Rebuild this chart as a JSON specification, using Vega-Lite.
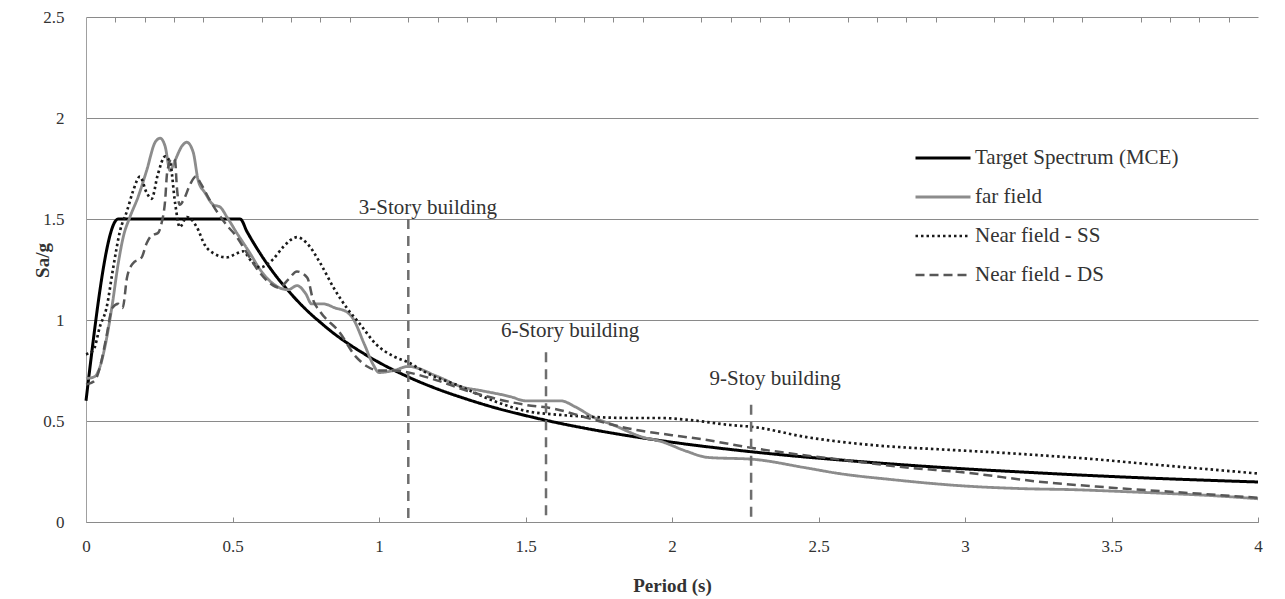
{
  "$schema": "https://vega.github.io/schema/vega-lite/v6.json",
  "width": 1172,
  "height": 505,
  "autosize": "none",
  "padding": {"left": 86, "top": 17, "right": 27, "bottom": 77},
  "background": "white",
  "config": {
    "view": {"stroke": null},
    "font": "Liberation Serif",
    "legend": {
      "orient": "none",
      "legendX": 828,
      "legendY": 112,
      "title": null,
      "symbolType": "stroke",
      "symbolSize": 3025,
      "symbolStrokeWidth": 2.5,
      "labelFont": "Liberation Serif",
      "labelFontSize": 21,
      "labelColor": "#333333",
      "labelOffset": 3,
      "labelLimit": 400,
      "rowPadding": 0
    }
  },
  "resolve": {"axis": {"x": "independent"}},
  "datasets": {
    "spectra": [
      {"series": "Target Spectrum (MCE)", "T": 0, "Sa": 0.6},
      {"series": "Target Spectrum (MCE)", "T": 0.11, "Sa": 1.5},
      {"series": "Target Spectrum (MCE)", "T": 0.3, "Sa": 1.5},
      {"series": "Target Spectrum (MCE)", "T": 0.526, "Sa": 1.5},
      {"series": "Target Spectrum (MCE)", "T": 0.55, "Sa": 1.436},
      {"series": "Target Spectrum (MCE)", "T": 0.6, "Sa": 1.317},
      {"series": "Target Spectrum (MCE)", "T": 0.65, "Sa": 1.215},
      {"series": "Target Spectrum (MCE)", "T": 0.7, "Sa": 1.129},
      {"series": "Target Spectrum (MCE)", "T": 0.75, "Sa": 1.053},
      {"series": "Target Spectrum (MCE)", "T": 0.8, "Sa": 0.988},
      {"series": "Target Spectrum (MCE)", "T": 0.85, "Sa": 0.929},
      {"series": "Target Spectrum (MCE)", "T": 0.9, "Sa": 0.878},
      {"series": "Target Spectrum (MCE)", "T": 0.95, "Sa": 0.832},
      {"series": "Target Spectrum (MCE)", "T": 1.0, "Sa": 0.79},
      {"series": "Target Spectrum (MCE)", "T": 1.1, "Sa": 0.718},
      {"series": "Target Spectrum (MCE)", "T": 1.2, "Sa": 0.658},
      {"series": "Target Spectrum (MCE)", "T": 1.3, "Sa": 0.608},
      {"series": "Target Spectrum (MCE)", "T": 1.4, "Sa": 0.564},
      {"series": "Target Spectrum (MCE)", "T": 1.5, "Sa": 0.527},
      {"series": "Target Spectrum (MCE)", "T": 1.6, "Sa": 0.494},
      {"series": "Target Spectrum (MCE)", "T": 1.7, "Sa": 0.465},
      {"series": "Target Spectrum (MCE)", "T": 1.8, "Sa": 0.439},
      {"series": "Target Spectrum (MCE)", "T": 1.9, "Sa": 0.416},
      {"series": "Target Spectrum (MCE)", "T": 2.0, "Sa": 0.395},
      {"series": "Target Spectrum (MCE)", "T": 2.2, "Sa": 0.359},
      {"series": "Target Spectrum (MCE)", "T": 2.4, "Sa": 0.329},
      {"series": "Target Spectrum (MCE)", "T": 2.6, "Sa": 0.304},
      {"series": "Target Spectrum (MCE)", "T": 2.8, "Sa": 0.282},
      {"series": "Target Spectrum (MCE)", "T": 3.0, "Sa": 0.263},
      {"series": "Target Spectrum (MCE)", "T": 3.2, "Sa": 0.247},
      {"series": "Target Spectrum (MCE)", "T": 3.4, "Sa": 0.232},
      {"series": "Target Spectrum (MCE)", "T": 3.6, "Sa": 0.219},
      {"series": "Target Spectrum (MCE)", "T": 3.8, "Sa": 0.208},
      {"series": "Target Spectrum (MCE)", "T": 4.0, "Sa": 0.198},

      {"series": "far field", "T": 0, "Sa": 0.71},
      {"series": "far field", "T": 0.03, "Sa": 0.72},
      {"series": "far field", "T": 0.048, "Sa": 0.77},
      {"series": "far field", "T": 0.065, "Sa": 0.87},
      {"series": "far field", "T": 0.088, "Sa": 1.06},
      {"series": "far field", "T": 0.11, "Sa": 1.28},
      {"series": "far field", "T": 0.127, "Sa": 1.41},
      {"series": "far field", "T": 0.15, "Sa": 1.51},
      {"series": "far field", "T": 0.178, "Sa": 1.61},
      {"series": "far field", "T": 0.207, "Sa": 1.74},
      {"series": "far field", "T": 0.236, "Sa": 1.88},
      {"series": "far field", "T": 0.253, "Sa": 1.9},
      {"series": "far field", "T": 0.27, "Sa": 1.86},
      {"series": "far field", "T": 0.287, "Sa": 1.74},
      {"series": "far field", "T": 0.304, "Sa": 1.79},
      {"series": "far field", "T": 0.327, "Sa": 1.86},
      {"series": "far field", "T": 0.344, "Sa": 1.88},
      {"series": "far field", "T": 0.366, "Sa": 1.83},
      {"series": "far field", "T": 0.383, "Sa": 1.69},
      {"series": "far field", "T": 0.406, "Sa": 1.63},
      {"series": "far field", "T": 0.435, "Sa": 1.57},
      {"series": "far field", "T": 0.457, "Sa": 1.56},
      {"series": "far field", "T": 0.481, "Sa": 1.51},
      {"series": "far field", "T": 0.515, "Sa": 1.43},
      {"series": "far field", "T": 0.56, "Sa": 1.33},
      {"series": "far field", "T": 0.594, "Sa": 1.25},
      {"series": "far field", "T": 0.63, "Sa": 1.19},
      {"series": "far field", "T": 0.66, "Sa": 1.16},
      {"series": "far field", "T": 0.69, "Sa": 1.15},
      {"series": "far field", "T": 0.72, "Sa": 1.17},
      {"series": "far field", "T": 0.75, "Sa": 1.13},
      {"series": "far field", "T": 0.77, "Sa": 1.08},
      {"series": "far field", "T": 0.81, "Sa": 1.08},
      {"series": "far field", "T": 0.85, "Sa": 1.06},
      {"series": "far field", "T": 0.89, "Sa": 1.04},
      {"series": "far field", "T": 0.91, "Sa": 1.01},
      {"series": "far field", "T": 0.95, "Sa": 0.88},
      {"series": "far field", "T": 0.98, "Sa": 0.78},
      {"series": "far field", "T": 1.0, "Sa": 0.74},
      {"series": "far field", "T": 1.05, "Sa": 0.75},
      {"series": "far field", "T": 1.1, "Sa": 0.77},
      {"series": "far field", "T": 1.2, "Sa": 0.72},
      {"series": "far field", "T": 1.28, "Sa": 0.67},
      {"series": "far field", "T": 1.35, "Sa": 0.65},
      {"series": "far field", "T": 1.45, "Sa": 0.62},
      {"series": "far field", "T": 1.5, "Sa": 0.6},
      {"series": "far field", "T": 1.62, "Sa": 0.6},
      {"series": "far field", "T": 1.67, "Sa": 0.57},
      {"series": "far field", "T": 1.73, "Sa": 0.52},
      {"series": "far field", "T": 1.8, "Sa": 0.48},
      {"series": "far field", "T": 1.9, "Sa": 0.42},
      {"series": "far field", "T": 1.96, "Sa": 0.4},
      {"series": "far field", "T": 2.05, "Sa": 0.35},
      {"series": "far field", "T": 2.12, "Sa": 0.32},
      {"series": "far field", "T": 2.28, "Sa": 0.31},
      {"series": "far field", "T": 2.45, "Sa": 0.27},
      {"series": "far field", "T": 2.57, "Sa": 0.24},
      {"series": "far field", "T": 2.75, "Sa": 0.21},
      {"series": "far field", "T": 2.98, "Sa": 0.18},
      {"series": "far field", "T": 3.2, "Sa": 0.165},
      {"series": "far field", "T": 3.37, "Sa": 0.16},
      {"series": "far field", "T": 3.55, "Sa": 0.15},
      {"series": "far field", "T": 3.71, "Sa": 0.14},
      {"series": "far field", "T": 3.85, "Sa": 0.13},
      {"series": "far field", "T": 4.0, "Sa": 0.115},

      {"series": "Near field - SS", "T": 0, "Sa": 0.83},
      {"series": "Near field - SS", "T": 0.025, "Sa": 0.85},
      {"series": "Near field - SS", "T": 0.048, "Sa": 0.97},
      {"series": "Near field - SS", "T": 0.07, "Sa": 1.06},
      {"series": "Near field - SS", "T": 0.093, "Sa": 1.26},
      {"series": "Near field - SS", "T": 0.116, "Sa": 1.44},
      {"series": "Near field - SS", "T": 0.14, "Sa": 1.54},
      {"series": "Near field - SS", "T": 0.161, "Sa": 1.64},
      {"series": "Near field - SS", "T": 0.184, "Sa": 1.71},
      {"series": "Near field - SS", "T": 0.207, "Sa": 1.63},
      {"series": "Near field - SS", "T": 0.224, "Sa": 1.6},
      {"series": "Near field - SS", "T": 0.245, "Sa": 1.72},
      {"series": "Near field - SS", "T": 0.27, "Sa": 1.81},
      {"series": "Near field - SS", "T": 0.287, "Sa": 1.78},
      {"series": "Near field - SS", "T": 0.304, "Sa": 1.58},
      {"series": "Near field - SS", "T": 0.32, "Sa": 1.46},
      {"series": "Near field - SS", "T": 0.344, "Sa": 1.51},
      {"series": "Near field - SS", "T": 0.378, "Sa": 1.46},
      {"series": "Near field - SS", "T": 0.406, "Sa": 1.37},
      {"series": "Near field - SS", "T": 0.435, "Sa": 1.33},
      {"series": "Near field - SS", "T": 0.48, "Sa": 1.31},
      {"series": "Near field - SS", "T": 0.515, "Sa": 1.33},
      {"series": "Near field - SS", "T": 0.536, "Sa": 1.34},
      {"series": "Near field - SS", "T": 0.565, "Sa": 1.29},
      {"series": "Near field - SS", "T": 0.594, "Sa": 1.26},
      {"series": "Near field - SS", "T": 0.638, "Sa": 1.3},
      {"series": "Near field - SS", "T": 0.672, "Sa": 1.36},
      {"series": "Near field - SS", "T": 0.72, "Sa": 1.41},
      {"series": "Near field - SS", "T": 0.754, "Sa": 1.38},
      {"series": "Near field - SS", "T": 0.8, "Sa": 1.28},
      {"series": "Near field - SS", "T": 0.845, "Sa": 1.16},
      {"series": "Near field - SS", "T": 0.89, "Sa": 1.06},
      {"series": "Near field - SS", "T": 0.935, "Sa": 0.98},
      {"series": "Near field - SS", "T": 0.99, "Sa": 0.88},
      {"series": "Near field - SS", "T": 1.05, "Sa": 0.82},
      {"series": "Near field - SS", "T": 1.1, "Sa": 0.79},
      {"series": "Near field - SS", "T": 1.16, "Sa": 0.74},
      {"series": "Near field - SS", "T": 1.28, "Sa": 0.67},
      {"series": "Near field - SS", "T": 1.39, "Sa": 0.6},
      {"series": "Near field - SS", "T": 1.5, "Sa": 0.55},
      {"series": "Near field - SS", "T": 1.62, "Sa": 0.53},
      {"series": "Near field - SS", "T": 1.73, "Sa": 0.52},
      {"series": "Near field - SS", "T": 1.85, "Sa": 0.515},
      {"series": "Near field - SS", "T": 1.96, "Sa": 0.515},
      {"series": "Near field - SS", "T": 2.06, "Sa": 0.505},
      {"series": "Near field - SS", "T": 2.2, "Sa": 0.48},
      {"series": "Near field - SS", "T": 2.28, "Sa": 0.47},
      {"series": "Near field - SS", "T": 2.46, "Sa": 0.42},
      {"series": "Near field - SS", "T": 2.69, "Sa": 0.38},
      {"series": "Near field - SS", "T": 2.91, "Sa": 0.36},
      {"series": "Near field - SS", "T": 3.1, "Sa": 0.345},
      {"series": "Near field - SS", "T": 3.26, "Sa": 0.33},
      {"series": "Near field - SS", "T": 3.45, "Sa": 0.31},
      {"series": "Near field - SS", "T": 3.6, "Sa": 0.29},
      {"series": "Near field - SS", "T": 3.8, "Sa": 0.265},
      {"series": "Near field - SS", "T": 4.0, "Sa": 0.24},

      {"series": "Near field - DS", "T": 0, "Sa": 0.68},
      {"series": "Near field - DS", "T": 0.03, "Sa": 0.7},
      {"series": "Near field - DS", "T": 0.05, "Sa": 0.78},
      {"series": "Near field - DS", "T": 0.07, "Sa": 0.92},
      {"series": "Near field - DS", "T": 0.09, "Sa": 1.06},
      {"series": "Near field - DS", "T": 0.11, "Sa": 1.08},
      {"series": "Near field - DS", "T": 0.125, "Sa": 1.06},
      {"series": "Near field - DS", "T": 0.14, "Sa": 1.21},
      {"series": "Near field - DS", "T": 0.16, "Sa": 1.28},
      {"series": "Near field - DS", "T": 0.19, "Sa": 1.31},
      {"series": "Near field - DS", "T": 0.207, "Sa": 1.38},
      {"series": "Near field - DS", "T": 0.225, "Sa": 1.42},
      {"series": "Near field - DS", "T": 0.245, "Sa": 1.43},
      {"series": "Near field - DS", "T": 0.258, "Sa": 1.48},
      {"series": "Near field - DS", "T": 0.27, "Sa": 1.59},
      {"series": "Near field - DS", "T": 0.277, "Sa": 1.73},
      {"series": "Near field - DS", "T": 0.293, "Sa": 1.8},
      {"series": "Near field - DS", "T": 0.304, "Sa": 1.79},
      {"series": "Near field - DS", "T": 0.31, "Sa": 1.66},
      {"series": "Near field - DS", "T": 0.32, "Sa": 1.57},
      {"series": "Near field - DS", "T": 0.335, "Sa": 1.6},
      {"series": "Near field - DS", "T": 0.355, "Sa": 1.67},
      {"series": "Near field - DS", "T": 0.375, "Sa": 1.71},
      {"series": "Near field - DS", "T": 0.39, "Sa": 1.68},
      {"series": "Near field - DS", "T": 0.42, "Sa": 1.6},
      {"series": "Near field - DS", "T": 0.45, "Sa": 1.53},
      {"series": "Near field - DS", "T": 0.48, "Sa": 1.47},
      {"series": "Near field - DS", "T": 0.51, "Sa": 1.42},
      {"series": "Near field - DS", "T": 0.55, "Sa": 1.33},
      {"series": "Near field - DS", "T": 0.59, "Sa": 1.24},
      {"series": "Near field - DS", "T": 0.63, "Sa": 1.18},
      {"series": "Near field - DS", "T": 0.66, "Sa": 1.16},
      {"series": "Near field - DS", "T": 0.69, "Sa": 1.2},
      {"series": "Near field - DS", "T": 0.72, "Sa": 1.24},
      {"series": "Near field - DS", "T": 0.755, "Sa": 1.21},
      {"series": "Near field - DS", "T": 0.775, "Sa": 1.1},
      {"series": "Near field - DS", "T": 0.8, "Sa": 1.04},
      {"series": "Near field - DS", "T": 0.865, "Sa": 0.94},
      {"series": "Near field - DS", "T": 0.92, "Sa": 0.82},
      {"series": "Near field - DS", "T": 0.96, "Sa": 0.77},
      {"series": "Near field - DS", "T": 1.0, "Sa": 0.75},
      {"series": "Near field - DS", "T": 1.05, "Sa": 0.75},
      {"series": "Near field - DS", "T": 1.1, "Sa": 0.74},
      {"series": "Near field - DS", "T": 1.2, "Sa": 0.7},
      {"series": "Near field - DS", "T": 1.3, "Sa": 0.65},
      {"series": "Near field - DS", "T": 1.4, "Sa": 0.61},
      {"series": "Near field - DS", "T": 1.5, "Sa": 0.58},
      {"series": "Near field - DS", "T": 1.6, "Sa": 0.56},
      {"series": "Near field - DS", "T": 1.7, "Sa": 0.52},
      {"series": "Near field - DS", "T": 1.8, "Sa": 0.48},
      {"series": "Near field - DS", "T": 1.9, "Sa": 0.45},
      {"series": "Near field - DS", "T": 2.0, "Sa": 0.43},
      {"series": "Near field - DS", "T": 2.1, "Sa": 0.41},
      {"series": "Near field - DS", "T": 2.28, "Sa": 0.365},
      {"series": "Near field - DS", "T": 2.4, "Sa": 0.34},
      {"series": "Near field - DS", "T": 2.57, "Sa": 0.31},
      {"series": "Near field - DS", "T": 2.8, "Sa": 0.27},
      {"series": "Near field - DS", "T": 3.0, "Sa": 0.245},
      {"series": "Near field - DS", "T": 3.25, "Sa": 0.2},
      {"series": "Near field - DS", "T": 3.5, "Sa": 0.17},
      {"series": "Near field - DS", "T": 3.75, "Sa": 0.145},
      {"series": "Near field - DS", "T": 4.0, "Sa": 0.12}
    ],
    "buildings": [
      {"building": "3-Story building", "T": 1.1, "top": 1.5, "base": 0, "lx": 1.167, "ly": 1.555},
      {"building": "6-Story building", "T": 1.57, "top": 0.84, "base": 0, "lx": 1.652, "ly": 0.946},
      {"building": "9-Stoy building", "T": 2.27, "top": 0.58, "base": 0, "lx": 2.352, "ly": 0.708}
    ]
  },
  "layer": [
    {
      "data": {"name": "spectra"},
      "mark": {"type": "line", "interpolate": "monotone"},
      "encoding": {
        "x": {
          "field": "T",
          "type": "quantitative",
          "scale": {"domain": [0, 4], "nice": false, "zero": false},
          "axis": {
            "title": "Period (s)",
            "values": [0, 0.5, 1, 1.5, 2, 2.5, 3, 3.5, 4],
            "format": "~g",
            "labelOverlap": false,
            "grid": false,
            "domainColor": "#8a8a8a",
            "tickColor": "#8a8a8a",
            "tickSize": -5,
            "labelFont": "Liberation Serif",
            "labelFontSize": 17,
            "labelColor": "#333333",
            "labelPadding": 21,
            "labelFlush": false,
            "titleFont": "Liberation Serif",
            "titleFontSize": 19,
            "titleFontWeight": "bold",
            "titleColor": "#333333",
            "titleY": 63,
            "titleBaseline": "middle"
          }
        },
        "y": {
          "field": "Sa",
          "type": "quantitative",
          "scale": {"domain": [0, 2.5], "nice": false},
          "axis": {
            "title": "Sa/g",
            "values": [0, 0.5, 1, 1.5, 2, 2.5],
            "format": "~g",
            "grid": true,
            "gridColor": "#8a8a8a",
            "gridWidth": 1,
            "ticks": false,
            "domainColor": "#a0a0a0",
            "labelFont": "Liberation Serif",
            "labelFontSize": 17,
            "labelColor": "#333333",
            "labelPadding": 22,
            "titleFont": "Liberation Serif",
            "titleFontSize": 19,
            "titleFontWeight": "bold",
            "titleColor": "#333333",
            "titleX": -44,
            "titleY": 243,
            "titleAngle": -90,
            "titleAlign": "center",
            "titleBaseline": "middle"
          }
        },
        "color": {
          "field": "series",
          "type": "nominal",
          "scale": {
            "domain": ["Target Spectrum (MCE)", "far field", "Near field - SS", "Near field - DS"],
            "range": ["#000000", "#8c8c8c", "#1a1a1a", "#575757"]
          },
          "legend": {"title": null}
        },
        "strokeDash": {
          "field": "series",
          "type": "nominal",
          "scale": {
            "domain": ["Target Spectrum (MCE)", "far field", "Near field - SS", "Near field - DS"],
            "range": [[1, 0], [1, 0], [2.5, 3], [9, 5]]
          },
          "legend": {"title": null}
        },
        "strokeWidth": {
          "field": "series",
          "type": "nominal",
          "scale": {
            "domain": ["Target Spectrum (MCE)", "far field", "Near field - SS", "Near field - DS"],
            "range": [3, 2.5, 2.5, 2.5]
          },
          "legend": null
        }
      }
    },
    {
      "data": {"name": "buildings"},
      "mark": {"type": "rule", "color": "#6e6e6e", "strokeWidth": 2.5, "strokeDash": [10, 7]},
      "encoding": {
        "x": {
          "field": "T",
          "type": "quantitative",
          "axis": {
            "title": null,
            "values": [0.1, 0.2, 0.3, 0.4, 0.6, 0.7, 0.8, 0.9, 1.1, 1.2, 1.3, 1.4, 1.6, 1.7, 1.8, 1.9, 2.1, 2.2, 2.3, 2.4, 2.6, 2.7, 2.8, 2.9, 3.1, 3.2, 3.3, 3.4, 3.6, 3.7, 3.8, 3.9],
            "labels": false,
            "domain": false,
            "grid": false,
            "tickColor": "#8a8a8a",
            "tickSize": -5
          }
        },
        "y": {"field": "top", "type": "quantitative"},
        "y2": {"field": "base"}
      }
    },
    {
      "data": {"name": "buildings"},
      "mark": {"type": "text", "font": "Liberation Serif", "fontSize": 21, "color": "#333333", "align": "center", "baseline": "middle"},
      "encoding": {
        "x": {"field": "lx", "type": "quantitative", "axis": null},
        "y": {"field": "ly", "type": "quantitative"},
        "text": {"field": "building", "type": "nominal"}
      }
    }
  ]
}
